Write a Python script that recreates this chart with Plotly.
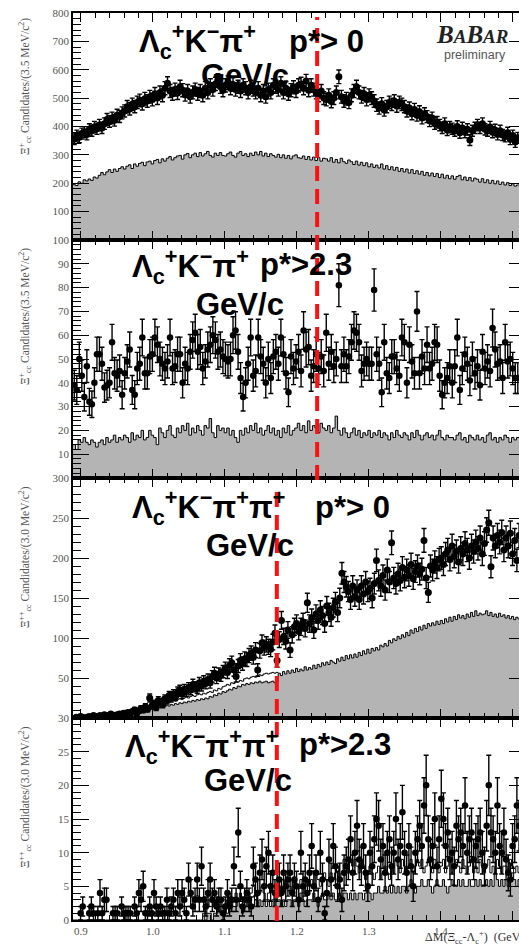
import numpy as np
import plotly.graph_objects as go
from plotly.subplots import make_subplots

X_START = 0.8889
W35 = 0.0035
W30 = 0.003

# ---- Panel 1: Lc K- pi+, p*>0 (3.5 MeV bins)
data1 = [355,368,362,375,380,372,390,385,398,392,
         405,395,410,425,418,430,422,440,435,448,
         455,470,462,478,470,485,492,480,498,490,
         505,495,515,500,520,510,535,552,525,515,
         530,518,540,528,512,525,505,520,530,515,
         525,510,535,520,545,530,550,562,540,528,
         545,555,535,548,530,540,525,545,535,520,
         540,530,520,535,510,525,505,530,520,545,
         540,530,552,520,535,515,528,538,525,545,
         550,535,560,528,545,530,520,510,525,500,
         495,510,488,500,520,575,505,490,498,485,
         510,525,540,520,505,515,495,510,500,490,
         475,465,480,458,470,485,478,490,472,485,
         478,470,455,465,445,460,440,452,430,445,
         435,420,430,410,415,405,395,410,388,398,
         392,385,400,378,395,380,390,352,385,395,
         405,395,410,390,385,398,380,388,372,385,
         370,365,378,355,368,345,360]
bkg1 = [195,192,205,200,212,208,215,210,222,218,
        228,238,230,240,248,238,250,242,252,258,
        250,260,265,252,268,260,270,274,262,275,
        278,268,280,284,272,286,278,288,294,282,
        290,296,298,285,300,305,290,300,306,294,
        308,296,304,312,298,292,306,298,308,298,
        296,304,310,298,292,306,312,298,304,294,
        306,298,310,300,312,296,306,294,304,298,
        292,302,290,300,288,298,286,296,300,290,
        288,296,284,294,282,292,280,290,278,288,
        286,278,290,274,284,272,288,276,270,282,
        276,266,278,264,274,262,272,258,268,256,
        264,254,268,250,262,248,258,246,256,242,
        252,240,250,236,248,234,244,232,242,228,
        238,226,236,224,234,220,232,218,228,216,
        226,214,224,228,212,222,210,220,208,218,
        214,204,216,202,212,200,210,198,208,196,
        204,194,202,192,198,190,194]

# ---- Panel 2: Lc K- pi+, p*>2.3 (3.5 MeV bins)
data2 = [39,37,50,43,34,47,32,31,40,52,
         52,48,38,39,40,57,44,43,45,35,
         44,49,54,37,35,46,48,59,44,44,
         51,52,59,56,50,48,46,49,59,46,
         47,52,52,40,48,46,53,58,61,53,
         55,46,49,54,56,60,58,53,54,51,
         50,49,50,60,62,53,42,34,40,48,
         59,43,45,
         59,51,48,40,50,42,51,53,48,59,
         52,44,36,51,46,49,53,45,62,54,
         55,43,47,52,46,51,45,61,48,53,
         47,50,81,47,52,47,51,57,62,61,
         57,45,48,50,48,48,79,52,48,36,
         57,44,42,51,51,46,43,59,57,40,
         56,49,44,70,44,51,46,56,46,48,
         57,56,43,35,40,42,47,40,47,59,
         37,46,52,48,41,50,44,47,39,53,
         46,49,45,63,54,48,49,42,57,49,
         50,46,42,42]
bkg2 = [14,12,16,15,17,15,14,16,15,13,
        15,16,14,17,15,16,18,15,17,16,
        18,17,15,19,16,18,17,20,16,17,
        20,18,17,14,21,19,17,20,22,18,
        17,21,19,22,20,23,18,21,19,22,
        20,18,22,21,25,19,17,22,20,21,
        19,21,18,20,17,15,20,18,21,19,
        22,20,23,19,21,18,20,22,19,21,
        18,20,17,21,19,22,18,20,21,23,
        20,22,19,24,20,22,21,19,23,21,
        20,22,19,21,26,20,18,21,19,17,
        19,21,18,20,17,19,18,20,17,19,
        18,20,17,19,18,16,19,17,20,18,
        17,19,18,16,19,17,20,18,16,18,
        19,17,18,16,18,20,17,16,18,17,
        17,16,18,19,16,17,15,18,17,16,
        18,16,17,15,18,19,16,17,15,17,
        16,18,17,15,17,16,17]

# ---- Panel 3: Lc K- pi+ pi+, p*>0 (3.0 MeV bins)
data3 = [0,1,0,2,1,0,1,2,1,3,
         2,1,3,2,4,2,3,5,1,3,
         4,5,3,6,4,7,5,8,10,6,
         9,12,10,14,11,25,15,18,13,22,
         20,17,24,22,28,25,30,27,33,35,
         30,36,33,38,35,42,39,37,44,40,
         46,43,48,44,52,56,50,55,53,58,
         62,57,66,69,60,52,65,72,68,74,
         73,78,81,76,85,60,84,94,88,92,
         89,86,95,106,72,98,122,102,96,110,
         85,104,114,118,108,114,120,112,144,118,
         125,110,130,122,135,128,118,140,132,126,
         138,145,132,150,181,170,164,158,148,165,
         152,160,148,165,155,170,158,162,150,168,
         197,172,165,178,160,185,170,219,175,168,
         180,172,188,176,185,178,192,174,183,190,
         180,186,222,175,157,190,185,195,188,198,
         200,192,205,210,198,215,202,208,195,212,
         205,218,210,200,215,208,220,212,225,205,
         218,235,244,189,225,215,228,220,232,210,
         225,215,231,205,222,197,228]
bkg3 = [0,1,1,0,1,1,2,1,2,1,
        2,2,3,2,3,3,4,3,4,4,
        5,4,5,6,5,7,6,8,7,9,
        9,10,11,10,12,11,13,12,14,13,
        14,15,14,16,15,17,16,18,17,19,
        18,20,19,21,20,22,21,23,22,24,
        23,25,24,27,26,29,28,31,30,33,
        32,34,36,35,38,37,40,39,42,41,
        43,42,44,43,45,44,46,44,45,46,
        44,45,46,44,45,56,53,58,55,59,
        56,60,57,62,58,61,59,64,60,63,
        61,66,62,67,64,69,66,70,67,72,
        70,68,74,71,76,72,78,74,79,75,
        80,76,82,78,84,80,86,81,87,84,
        88,85,91,89,93,90,97,94,99,97,
        102,99,104,101,107,103,110,106,112,108,
        114,110,116,112,118,115,119,116,121,117,
        122,118,124,120,126,121,127,123,129,125,
        128,124,130,126,132,127,134,128,131,129,
        130,134,128,132,127,130,126,131,127,129,
        125,128,124,127,123,126,124]
open3 = [1,2,1,2,2,1,3,2,3,2,
         3,4,4,3,5,4,6,5,6,7,
         7,6,8,9,8,10,9,11,10,12,
         12,13,14,13,15,14,16,15,17,16,
         18,17,19,20,19,21,22,21,23,24,
         23,25,26,25,27,28,27,29,30,29,
         31,30,32,33,32,35,34,37,36,39,
         40,42,41,44,43,46,45,47,46,49,
         50,49,51,52,51,53,54,53,55,56,
         55,56,57,56,57]

# ---- Panel 4: Lc K- pi+ pi+, p*>2.3 (3.0 MeV bins)
data4 = [0,0,0,1,2,0,0,1,2,1,
         0,1,4,1,3,3,0,0,1,1,
         1,0,2,1,1,1,1,0,2,1,
         4,3,5,1,1,2,1,4,2,1,
         2,1,1,3,1,2,3,1,4,2,
         4,3,1,6,4,2,3,6,3,8,
         3,2,4,6,3,4,2,3,3,1,
         2,4,2,3,8,3,13,5,2,3,
         4,3,2,8,6,4,7,9,5,8,
         10,5,7,4,5,6,4,7,5,6,
         7,4,6,5,3,10,5,6,4,7,
         11,5,7,3,10,6,1,4,9,6,
         11,8,5,6,3,7,8,9,12,7,
         10,14,9,8,11,7,5,10,8,12,
         15,14,9,11,7,10,12,8,10,15,
         9,11,16,10,7,11,8,5,10,12,
         14,11,17,20,12,9,11,15,8,12,
         18,15,11,13,9,10,8,14,12,13,
         11,17,10,12,13,9,11,12,13,10,
         8,14,20,13,12,10,17,11,10,13,
         9,7,6,11,12,17,14]
bkg4 = [0,0,0,0,0,0,0,0,0,0,
        0,0,0,0,0,0,0,0,0,0,
        0,0,0,0,0,0,0,0,0,0,
        0,0,0,0,0,0,0,0,0,0,
        0,0,0,0,0,0,0,0,0,0,
        0,0,0,0,0,0,0,0,0,0,
        1,0,1,1,0,1,1,2,1,1,
        2,1,2,3,2,2,3,2,1,2,
        2,3,2,2,3,2,3,2,3,2,
        3,2,3,2,3,3,2,3,2,3,
        3,2,3,3,2,4,3,2,3,3,
        3,4,3,2,3,4,3,3,4,3,
        4,3,3,4,3,4,4,3,4,3,
        4,3,4,4,3,4,5,4,3,4,
        4,5,4,4,5,4,5,4,5,4,
        5,4,5,5,4,5,6,5,4,5,
        5,6,5,5,6,5,4,5,6,5,
        5,6,5,4,5,6,5,5,6,5,
        6,5,5,6,5,5,6,5,6,5,
        5,6,5,6,5,7,6,5,6,5,
        6,5,6,7,6,5,6]
open4_start = 60
open4 = [2,1,3,2,2,3,2,3,2,3,
         3,2,4,3,3,4,3,4,3,3,
         4,3,4,5,3,4,4,5,4,3,
         4,5,4,3,5,4,5,4,6,5,
         5,4,6,5,5,6,4,5,6,5,
         6,5,7,6,5,6,7,6,5,7,
         6,7,8,6,7,9,8,7,9,8,
         9,8,7,9,8,6,7,8,7,6,
         7,8,6,7,8,7,6,8,7,9,
         8,7,9,8,7,8,9,7,8,9,
         8,9,7,8,9,8,7,9,8,7,
         8,9,7,8,9,7,8,9,8,7,
         9,8,7,8,9,7,8,7,9,8,
         7,8,9,7,8,7,9,8,7,8,
         8,7,9,8,7,8,7]

panel_labels = [("Λ<sub>c</sub><sup>+</sup>K<sup>−</sup>π<sup>+</sup>", "p*> 0"),
                ("Λ<sub>c</sub><sup>+</sup>K<sup>−</sup>π<sup>+</sup>", "p*>2.3"),
                ("Λ<sub>c</sub><sup>+</sup>K<sup>−</sup>π<sup>+</sup>π<sup>+</sup>", "p*> 0"),
                ("Λ<sub>c</sub><sup>+</sup>K<sup>−</sup>π<sup>+</sup>π<sup>+</sup>", "p*>2.3")]
ytitles = ["Ξ<sup>+</sup><sub>cc</sub> Candidates/(3.5 MeV/c<sup>2</sup>)",
           "Ξ<sup>+</sup><sub>cc</sub> Candidates/(3.5 MeV/c<sup>2</sup>)",
           "Ξ<sup>++</sup><sub>cc</sub> Candidates/(3.0 MeV/c<sup>2</sup>)",
           "Ξ<sup>++</sup><sub>cc</sub> Candidates/(3.0 MeV/c<sup>2</sup>)"]
xtitle = "ΔM(Ξ<sub>cc</sub>-Λ<sub>c</sub><sup>+</sup>)  (GeV/c<sup>2</sup>)"
yranges = [800, 100, 300, 30]
ymajor = [100, 10, 50, 5]
yminor = [20, 2, 10, 1]
cut_lines = [1.228, 1.172]

# ---------------- figure ----------------
W, H = 519, 949
ML, MR, MT, MB = 73, 0, 13, 29
PW, PH = W - ML - MR, H - MT - MB

def px2x(px):
    return (px - ML) / PW

def py2y(py):
    return (H - MB - py) / PH

fig = make_subplots(rows=4, cols=1, shared_xaxes=True, vertical_spacing=0,
                    row_heights=[227, 238, 240, 202])

GRAY = "#b4b4b4"

def step_xy(vals, w, start_index=0):
    vals = list(vals)
    edges = X_START + w * np.arange(start_index, start_index + len(vals) + 1)
    return edges, vals + [vals[-1]]

def add_hist(vals, w, row, fill=True, start_index=0):
    ex, ey = step_xy(vals, w, start_index)
    fig.add_trace(go.Scatter(x=ex, y=ey, mode="lines",
                             line=dict(shape="hv", color="black", width=1),
                             fill="tozeroy" if fill else None,
                             fillcolor=GRAY, hoverinfo="skip", showlegend=False),
                  row=row, col=1)

def add_points(vals, w, row, msize=7):
    v = np.array(vals, dtype=float)
    centers = X_START + w * (np.arange(len(v)) + 0.5)
    yv = np.where(v > 0, v, np.nan)
    err = np.sqrt(np.where(v > 0, v, 0))
    fig.add_trace(go.Scatter(x=centers, y=yv, mode="markers",
                             marker=dict(color="black", size=msize),
                             error_y=dict(type="data", array=err, color="black",
                                          thickness=1.4, width=2.5),
                             showlegend=False),
                  row=row, col=1)

add_hist(bkg1, W35, 1)
add_points(data1, W35, 1, 7)
add_hist(bkg2, W35, 2)
add_points(data2, W35, 2, 6.5)
add_hist(bkg3, W30, 3)
add_hist(open3, W30, 3, fill=False)
add_points(data3, W30, 3, 7)
add_hist(bkg4, W30, 4)
add_hist(open4, W30, 4, fill=False, start_index=open4_start)
add_points(data4, W30, 4, 6.5)

XR = [X_START, X_START + (PW / 720.0)]
tickfont = dict(family="Liberation Serif", size=11, color="#555555")

for r in range(1, 5):
    fig.update_xaxes(row=r, col=1, range=XR, showline=True, linecolor="black",
                     linewidth=1.5, mirror="ticks", ticks="inside", ticklen=9,
                     tickwidth=1.2, tickcolor="black", tick0=0.9, dtick=0.1,
                     tickformat=".1f", showgrid=False, zeroline=False,
                     minor=dict(ticks="inside", ticklen=5, dtick=0.02,
                                tick0=0.9, tickcolor="black", tickwidth=1),
                     tickfont=tickfont, showticklabels=(r == 4))
    top = yranges[r - 1]
    maj = ymajor[r - 1]
    tv = list(np.arange(0, top + maj / 2, maj))
    tt = ["" if (i == 0 and r != 4) else ("%g" % t) for i, t in enumerate(tv)]
    fig.update_yaxes(row=r, col=1, range=[0, top], showline=True,
                     linecolor="black", linewidth=1.5, ticks="inside",
                     ticklen=16, tickwidth=1.2, tickcolor="black",
                     tickmode="array", tickvals=tv, ticktext=tt,
                     minor=dict(ticks="inside", ticklen=8, tickmode="linear",
                                tick0=0, dtick=yminor[r - 1],
                                tickcolor="black", tickwidth=1),
                     showgrid=False, zeroline=False, tickfont=tickfont)

# right-hand major ticks (frame on the right edge, its line cut off by the image)
for r in range(1, 5):
    top = yranges[r - 1]
    maj = ymajor[r - 1]
    tv = list(np.arange(maj, top, maj))
    xa = "x" if r == 1 else "x%d" % r
    ya = "y" if r == 1 else "y%d" % r
    name = "yaxis%d" % (r + 4)
    fig.add_trace(go.Scatter(x=[None], y=[None], xaxis=xa, yaxis="y%d" % (r + 4),
                             showlegend=False, hoverinfo="skip"))
    fig.layout[name] = dict(overlaying=ya, anchor=xa, side="right",
                            range=[0, top], tickmode="array", tickvals=tv,
                            ticks="inside", ticklen=10, tickwidth=1.2,
                            tickcolor="black", showticklabels=False,
                            showline=False, showgrid=False, zeroline=False)

ann = []
lab_font = dict(family="Liberation Sans", size=31, color="black")
# (left of label1, y of label1, left of label2, y of label2, center GeV/c, y GeV/c)
lab_pos = [(137, 41, 287, 41, 245, 75),
           (130, 266, 258, 264, 240, 304),
           (130, 507, 313, 507, 250, 545),
           (123, 746, 297, 744, 248, 780)]
for (l1, l2), (x1, y1, x2, y2, x3, y3) in zip(panel_labels, lab_pos):
    ann.append(dict(x=px2x(x1), y=py2y(y1), xref="paper", yref="paper",
                    text="<b>" + l1 + "</b>", showarrow=False,
                    xanchor="left", yanchor="middle", font=lab_font))
    ann.append(dict(x=px2x(x2), y=py2y(y2), xref="paper", yref="paper",
                    text="<b>" + l2 + "</b>", showarrow=False,
                    xanchor="left", yanchor="middle", font=lab_font))
    ann.append(dict(x=px2x(x3), y=py2y(y3), xref="paper", yref="paper",
                    text="<b>GeV/c</b>", showarrow=False,
                    xanchor="center", yanchor="middle", font=lab_font))

for t, cy in zip(ytitles, [87, 317, 557, 797]):
    ann.append(dict(x=px2x(25), y=py2y(cy), xref="paper", yref="paper",
                    text=t, textangle=-90, showarrow=False,
                    xanchor="center", yanchor="middle",
                    font=dict(family="Liberation Serif", size=11.5, color="#555555")))

ann.append(dict(x=px2x(423), y=py2y(938), xref="paper", yref="paper",
                text=xtitle, showarrow=False, xanchor="left", yanchor="middle",
                font=dict(family="Liberation Serif", size=12, color="#333333")))

ann.append(dict(x=px2x(472), y=py2y(35), xref="paper", yref="paper",
                text="<b><i>B<span style='font-size:19px'>A</span>B<span style='font-size:19px'>AR</span></i></b>",
                showarrow=False, xanchor="center", yanchor="middle",
                font=dict(family="Liberation Serif", size=25, color="#222222")))
ann.append(dict(x=px2x(475), y=py2y(55), xref="paper", yref="paper",
                text="preliminary", showarrow=False, xanchor="center",
                yanchor="middle",
                font=dict(family="Liberation Sans", size=12.5, color="#555555")))

shapes = [
    dict(type="line", xref="x", yref="paper", x0=cut_lines[0], x1=cut_lines[0],
         y0=py2y(480), y1=py2y(17),
         line=dict(color="#ff1010", width=4, dash="15px,8px")),
    dict(type="line", xref="x", yref="paper", x0=cut_lines[1], x1=cut_lines[1],
         y0=py2y(921), y1=py2y(487),
         line=dict(color="#ff1010", width=4, dash="15px,8px")),
]

fig.update_layout(width=W, height=H,
                  margin=dict(l=ML, r=MR, t=MT, b=MB),
                  paper_bgcolor="white", plot_bgcolor="white",
                  showlegend=False, annotations=ann, shapes=shapes)

fig.write_html("out.html")
